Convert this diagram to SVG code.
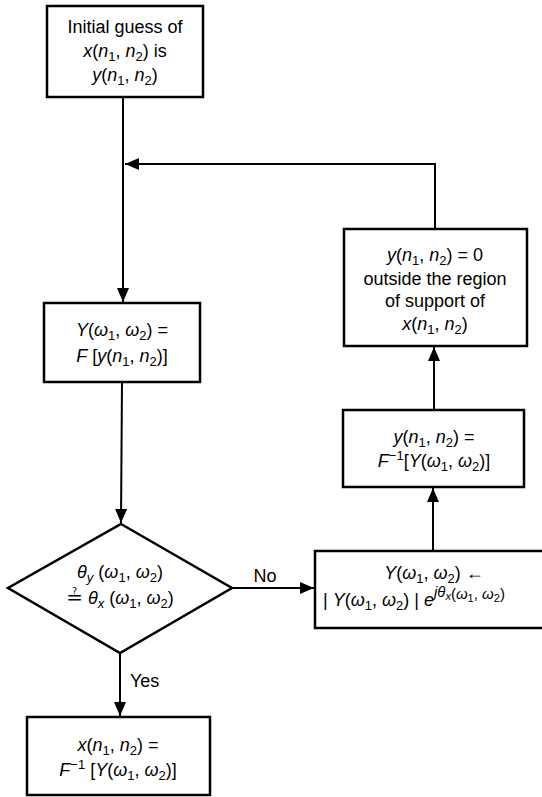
<svg xmlns="http://www.w3.org/2000/svg" width="542" height="797" viewBox="0 0 542 797">
<style>
.box{fill:#fff;stroke:#000;stroke-width:2.5}
.ln{fill:none;stroke:#000;stroke-width:2}
text{font-family:"Liberation Sans",Arial,sans-serif;font-size:18px;fill:#000}
.c{text-anchor:middle}
.i{font-style:italic}
.s{font-size:13px}
.p{font-size:15px}
.q{font-size:11px}
</style>
<defs>
<marker id="ah" markerUnits="userSpaceOnUse" markerWidth="16" markerHeight="12" refX="14" refY="6" orient="auto">
<path d="M0,0 L14,6 L0,12 Z" fill="#000"/>
</marker>
</defs>
<rect width="542" height="797" fill="#fff"/>
<g id="connectors">
<line class="ln" x1="123" y1="97" x2="123" y2="302" marker-end="url(#ah)"/>
<polyline class="ln" points="435,229 435,164 125,164" marker-end="url(#ah)"/>
<line class="ln" x1="122" y1="382" x2="121" y2="523" marker-end="url(#ah)"/>
<line class="ln" x1="232" y1="588" x2="314" y2="588" marker-end="url(#ah)"/>
<line class="ln" x1="433" y1="551" x2="433" y2="488" marker-end="url(#ah)"/>
<line class="ln" x1="434" y1="410" x2="434" y2="347" marker-end="url(#ah)"/>
<line class="ln" x1="120" y1="653" x2="120" y2="716" marker-end="url(#ah)"/>
<text x="265" y="582" class="c">No</text>
<text x="130" y="687">Yes</text>
</g>
<g id="init">
<rect class="box" x="47" y="6" width="156" height="91"/>
<text class="c" x="125" y="33">Initial guess of</text>
<text class="c" x="125" y="57"><tspan class="i">x</tspan>(<tspan class="i">n</tspan><tspan class="s" dy="4">1</tspan><tspan dy="-4">, </tspan><tspan class="i">n</tspan><tspan class="s" dy="4">2</tspan><tspan dy="-4">) is</tspan></text>
<text class="c" x="125" y="81"><tspan class="i">y</tspan>(<tspan class="i">n</tspan><tspan class="s" dy="4">1</tspan><tspan dy="-4">, </tspan><tspan class="i">n</tspan><tspan class="s" dy="4">2</tspan><tspan dy="-4">)</tspan></text>
</g>
<g id="fft">
<rect class="box" x="44" y="303" width="156" height="79"/>
<text class="c" x="122" y="336"><tspan class="i">Y</tspan>(<tspan class="i">ω</tspan><tspan class="s" dy="4">1</tspan><tspan dy="-4">, </tspan><tspan class="i">ω</tspan><tspan class="s" dy="4">2</tspan><tspan dy="-4">) =</tspan></text>
<text class="c" x="122" y="362"><tspan class="i">F</tspan> [<tspan class="i">y</tspan>(<tspan class="i">n</tspan><tspan class="s" dy="4">1</tspan><tspan dy="-4">, </tspan><tspan class="i">n</tspan><tspan class="s" dy="4">2</tspan><tspan dy="-4">)]</tspan></text>
</g>
<g id="decision">
<polygon class="box" points="121,524 232,588 120,653 8,588"/>
<text class="c" x="120" y="578"><tspan class="i">θ</tspan><tspan class="s i" dy="4">y</tspan><tspan dy="-4"> (</tspan><tspan class="i">ω</tspan><tspan class="s" dy="4">1</tspan><tspan dy="-4">, </tspan><tspan class="i">ω</tspan><tspan class="s" dy="4">2</tspan><tspan dy="-4">)</tspan></text>
<text class="c" x="120" y="604"><tspan style="font-family:'DejaVu Sans',sans-serif;font-size:20px">≟</tspan> <tspan class="i">θ</tspan><tspan class="s i" dy="4">x</tspan><tspan dy="-4"> (</tspan><tspan class="i">ω</tspan><tspan class="s" dy="4">1</tspan><tspan dy="-4">, </tspan><tspan class="i">ω</tspan><tspan class="s" dy="4">2</tspan><tspan dy="-4">)</tspan></text>
</g>
<g id="replace">
<rect class="box" x="315" y="551" width="235" height="77"/>
<text class="c" x="434" y="579"><tspan class="i">Y</tspan>(<tspan class="i">ω</tspan><tspan class="s" dy="4">1</tspan><tspan dy="-4">, </tspan><tspan class="i">ω</tspan><tspan class="s" dy="4">2</tspan><tspan dy="-4">) ←</tspan></text>
<text x="323" y="606">| <tspan class="i">Y</tspan>(<tspan class="i">ω</tspan><tspan class="s" dy="4">1</tspan><tspan dy="-4">, </tspan><tspan class="i">ω</tspan><tspan class="s" dy="4">2</tspan><tspan dy="-4">) | </tspan><tspan class="i">e</tspan><tspan class="p i" dy="-9">jθ</tspan><tspan class="q i" dy="3">x</tspan><tspan class="p" dy="-1">(</tspan><tspan class="p i">ω</tspan><tspan class="q" dy="3">1</tspan><tspan class="p" dy="-3">, </tspan><tspan class="p i">ω</tspan><tspan class="q" dy="3">2</tspan><tspan class="p" dy="-3">)</tspan></text>
</g>
<g id="ifft">
<rect class="box" x="343" y="410" width="181" height="77"/>
<text class="c" x="434" y="443"><tspan class="i">y</tspan>(<tspan class="i">n</tspan><tspan class="s" dy="4">1</tspan><tspan dy="-4">, </tspan><tspan class="i">n</tspan><tspan class="s" dy="4">2</tspan><tspan dy="-4">) =</tspan></text>
<text class="c" x="434" y="467"><tspan class="i">F</tspan><tspan class="s" dy="-7">−1</tspan><tspan dy="7">[</tspan><tspan class="i">Y</tspan>(<tspan class="i">ω</tspan><tspan class="s" dy="4">1</tspan><tspan dy="-4">, </tspan><tspan class="i">ω</tspan><tspan class="s" dy="4">2</tspan><tspan dy="-4">)]</tspan></text>
</g>
<g id="support">
<rect class="box" x="344" y="229" width="183" height="117"/>
<text class="c" x="435" y="261"><tspan class="i">y</tspan>(<tspan class="i">n</tspan><tspan class="s" dy="4">1</tspan><tspan dy="-4">, </tspan><tspan class="i">n</tspan><tspan class="s" dy="4">2</tspan><tspan dy="-4">) = 0</tspan></text>
<text class="c" x="435" y="285">outside the region</text>
<text class="c" x="435" y="307">of support of</text>
<text class="c" x="435" y="330"><tspan class="i">x</tspan>(<tspan class="i">n</tspan><tspan class="s" dy="4">1</tspan><tspan dy="-4">, </tspan><tspan class="i">n</tspan><tspan class="s" dy="4">2</tspan><tspan dy="-4">)</tspan></text>
</g>
<g id="result">
<rect class="box" x="27" y="717" width="183" height="78"/>
<text class="c" x="118" y="751"><tspan class="i">x</tspan>(<tspan class="i">n</tspan><tspan class="s" dy="4">1</tspan><tspan dy="-4">, </tspan><tspan class="i">n</tspan><tspan class="s" dy="4">2</tspan><tspan dy="-4">) =</tspan></text>
<text class="c" x="118" y="776"><tspan class="i">F</tspan><tspan class="s" dy="-7">−1</tspan><tspan dy="7"> [</tspan><tspan class="i">Y</tspan>(<tspan class="i">ω</tspan><tspan class="s" dy="4">1</tspan><tspan dy="-4">, </tspan><tspan class="i">ω</tspan><tspan class="s" dy="4">2</tspan><tspan dy="-4">)]</tspan></text>
</g>
</svg>
